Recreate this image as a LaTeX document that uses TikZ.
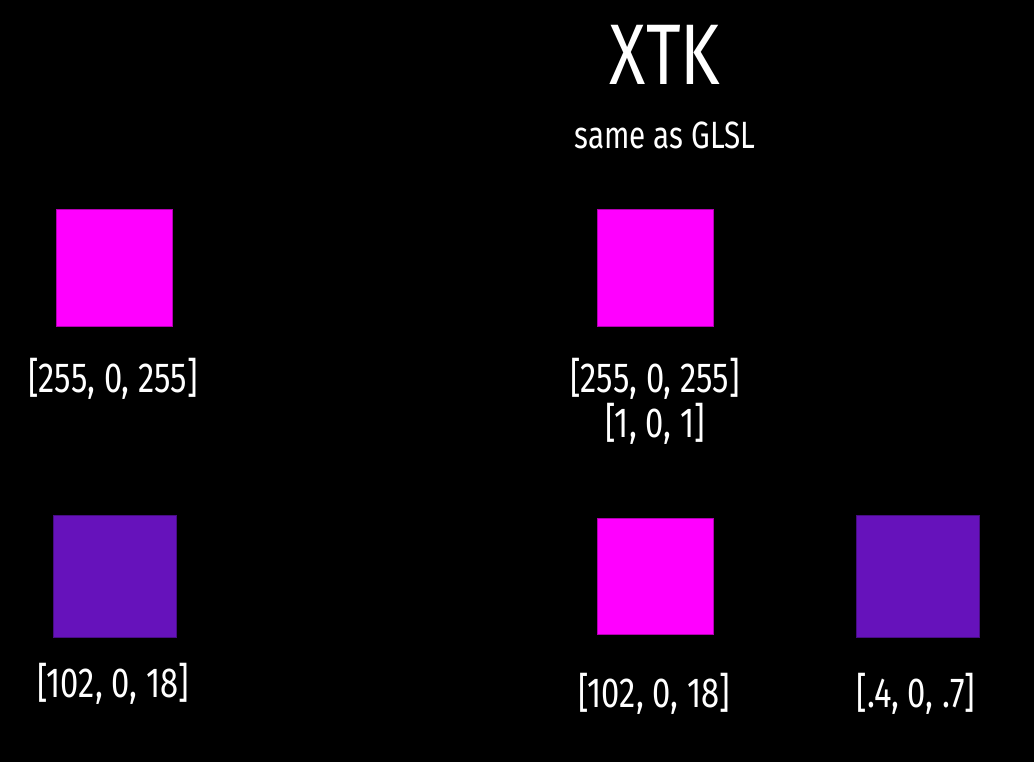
\documentclass[tikz,border=0pt]{standalone}
\usepackage{fontspec}
\setmainfont[FakeStretch=0.78]{Fira Sans}
\usepackage{tikz}
\usetikzlibrary{positioning}
\definecolor{swmag}{RGB}{255,0,255}
\definecolor{swpurple}{RGB}{102,18,187}
\tikzset{
    swatch/.style={draw, line width=1pt, inner sep=0pt},
    swmagenta/.style={swatch, fill=swmag, draw=swmag!70!black, minimum width=116pt, minimum height=116pt},
    swviolet/.style={swatch, fill=swpurple, draw=swpurple!70!black, minimum width=123pt, minimum height=122pt},
    swlbl/.style={text=white, anchor=base, inner sep=0pt, font=\fontsize{42}{45}\selectfont},
    swtitle/.style={text=white, anchor=base, inner sep=0pt, font=\fontsize{86}{90}\selectfont},
    swsub/.style={text=white, anchor=base, inner sep=0pt, font=\fontsize{38}{42}\selectfont},
}

\begin{document}
\begin{tikzpicture}[x=1pt, y=-1pt]
    \fill[black] (0,0) rectangle (1034,762);
    \useasboundingbox (0,0) rectangle (1034,762);
    \node[swtitle] (title) at (665,85)  {XTK};
    \node[swsub]   (sub)   at (665,149) {same as GLSL};
    \node[swmagenta] (magA) at (114,268) {};
    \node[swmagenta] (magB) at (655,268) {};
    \node[swviolet]  (vioA) at (115,576) {};
    \node[swmagenta] (magC) at (655,576) {};
    \node[swviolet]  (vioB) at (918,576) {};
    \node[swlbl] (lblA)  at (113,392) {[255, 0, 255]};
    \node[swlbl] (lblB)  at (655,392) {[255, 0, 255]};
    \node[swlbl] (lblBb) at (655,437) {[1, 0, 1]};
    \node[swlbl] (lblC)  at (113,697) {[102, 0, 18]};
    \node[swlbl] (lblD)  at (654,707) {[102, 0, 18]};
    \node[swlbl] (lblE)  at (916,707) {[.4, 0, .7]};
\end{tikzpicture}
\end{document}
